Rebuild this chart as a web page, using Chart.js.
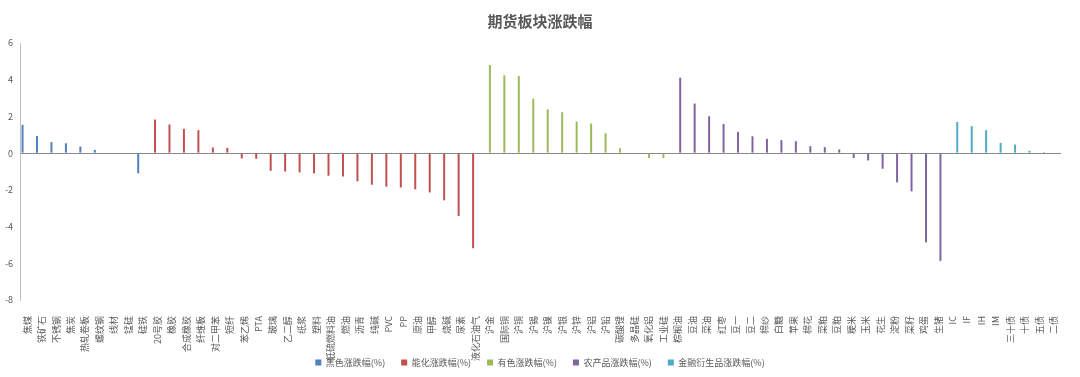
<!DOCTYPE html>
<html>
<head>
<meta charset="utf-8">
<script src="https://cdn.jsdelivr.net/npm/chart.js@4.4.0/dist/chart.umd.min.js"></script>
<style>
  body { margin: 0; background: #fff; }
  #caixa { width: 1080px; height: 377px; }
</style>
</head>
<body>
<div id="caixa"><canvas id="grafico"></canvas></div>
<script>
// categorias de cada setor
let heise = ["焦煤", "铁矿石", "不锈钢", "焦炭", "热轧卷板", "螺纹钢", "线材", "锰硅", "硅铁"];
let nenghua = ["20号胶", "橡胶", "合成橡胶", "纤维板", "对二甲苯", "短纤", "苯乙烯", "PTA", "玻璃", "乙二醇", "纸浆", "塑料",
  "低硫燃料油", "燃油", "沥青", "纯碱", "PVC", "PP", "原油", "甲醇", "烧碱", "尿素", "液化石油气"];
let youse = ["沪金", "国际铜", "沪铜", "沪锡", "沪镍", "沪银", "沪锌", "沪铝", "沪铅", "碳酸锂", "多晶硅", "氧化铝", "工业硅"];
let nongchanpin = ["棕榈油", "豆油", "菜油", "红枣", "豆一", "豆二", "棉纱", "白糖", "苹果", "棉花", "菜粕", "豆粕",
  "粳米", "玉米", "花生", "淀粉", "菜籽", "鸡蛋", "生猪"];
let jinrong = ["IC", "IF", "IH", "IM", "三十债", "十债", "五债", "二债"];

//涨跌幅 (%)
let heiseValores = [1.54, 0.94, 0.60, 0.54, 0.36, 0.18, 0, 0, -1.10];
let nenghuaValores = [1.83, 1.56, 1.32, 1.25, 0.31, 0.29, -0.29, -0.31, -0.96, -1.00, -1.05, -1.10,
  -1.23, -1.27, -1.54, -1.72, -1.83, -1.87, -1.97, -2.14, -2.57, -3.42, -5.18];
let youseValores = [4.80, 4.24, 4.20, 2.97, 2.39, 2.23, 1.72, 1.61, 1.09, 0.27, 0, -0.27, -0.27];
let nongchanpinValores = [4.11, 2.70, 2.01, 1.59, 1.16, 0.92, 0.78, 0.71, 0.65, 0.38, 0.33, 0.20,
  -0.27, -0.40, -0.85, -1.59, -2.08, -4.86, -5.87];
let jinrongValores = [1.70, 1.47, 1.25, 0.56, 0.47, 0.13, 0.05, 0.02];

let yTicks = [6, 4, 2, 0, -2, -4, -6, -8];

let grupos = [
  { nome: "黑色涨跌幅(%)", cats: heise, vals: heiseValores, cor: "#4F81BD" },
  { nome: "能化涨跌幅(%)", cats: nenghua, vals: nenghuaValores, cor: "#C0504D" },
  { nome: "有色涨跌幅(%)", cats: youse, vals: youseValores, cor: "#9BBB59" },
  { nome: "农产品涨跌幅(%)", cats: nongchanpin, vals: nongchanpinValores, cor: "#8064A2" },
  { nome: "金融衍生品涨跌幅(%)", cats: jinrong, vals: jinrongValores, cor: "#4BACC6" }
];

let labels = [];
grupos.forEach(g => { labels = labels.concat(g.cats); });

// cada serie so tem valor nas suas categorias, o resto fica null
let datasets = grupos.map(g => {
  let data = labels.map(l => {
    let i = g.cats.indexOf(l);
    return i >= 0 ? g.vals[i] : null;
  });
  return {
    label: g.nome,
    data: data,
    backgroundColor: g.cor,
    borderWidth: 0,
    barPercentage: 0.85,
    categoryPercentage: 0.81
  };
});

Chart.defaults.font.family = "'Noto Sans CJK SC', 'DejaVu Sans', sans-serif";
Chart.defaults.color = "#595959";

const ctx = document.getElementById("grafico").getContext("2d");
const grafico = new Chart(ctx, {
  type: "bar",
  data: { labels: labels, datasets: datasets },
  options: {
    responsive: true,
    maintainAspectRatio: false,
    animation: false,
    layout: { padding: 0 },
    plugins: {
      title: {
        display: true,
        text: "期货板块涨跌幅",
        color: "#595959",
        font: { size: 15, weight: "bold" },
        padding: { top: 12, bottom: 13 }
      },
      legend: {
        position: "bottom",
        labels: {
          boxWidth: 6,
          boxHeight: 6,
          padding: 16,
          color: "#595959",
          font: { size: 9 }
        }
      },
      tooltip: { enabled: false }
    },
    scales: {
      x: {
        grid: { display: false },
        border: { display: false },
        ticks: {
          autoSkip: false,
          minRotation: 90,
          maxRotation: 90,
          padding: 8,
          color: "#595959",
          font: { size: 9 }
        },
        afterFit: function (scale) {
          scale.height = 42;
          // nomes compridos passam da caixa do eixo, nao cortar
          scale._computeLabelArea = function () { return undefined; };
        }
      },
      y: {
        min: -8,
        max: 6,
        afterBuildTicks: function (scale) { scale.ticks = yTicks.map(v => ({ value: v })); },
        grid: {
          drawTicks: false,
          color: c => (c.tick && c.tick.value === 0 ? "#898989" : "rgba(0,0,0,0)"),
          lineWidth: 1
        },
        border: { display: true, color: "#BFBFBF" },
        ticks: { padding: 7, color: "#595959", font: { size: 9 } },
        afterFit: function (scale) { scale.width = 20; }
      },
      // eixo vazio so para deixar a margem da direita
      margem: {
        position: "right",
        display: true,
        grid: { display: false },
        border: { display: false },
        ticks: { display: false },
        afterFit: function (scale) { scale.width = 19; }
      }
    }
  }
});
</script>
</body>
</html>
